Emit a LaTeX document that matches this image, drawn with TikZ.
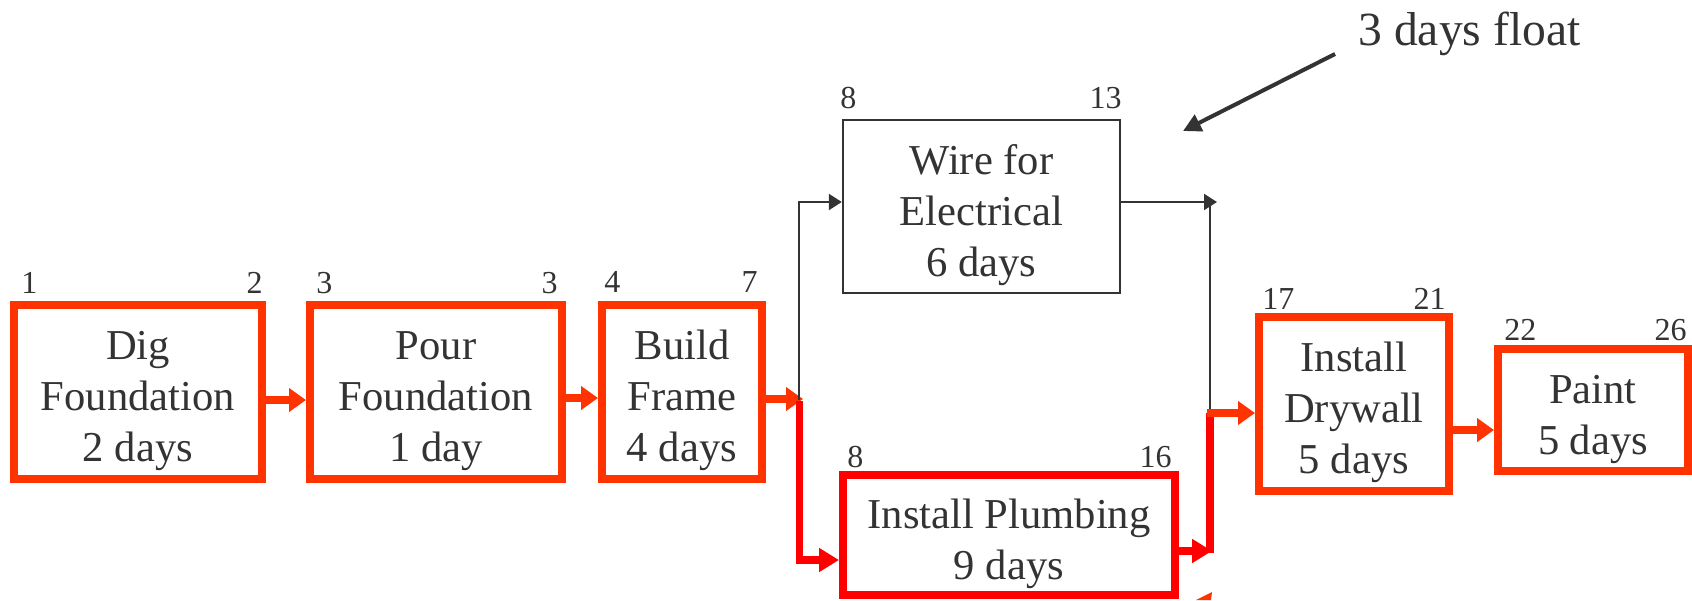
\documentclass[tikz,border=0pt]{standalone}
\usepackage{fontspec}
\setmainfont{Liberation Serif}
\usetikzlibrary{arrows.meta}
\definecolor{crit}{HTML}{FF3300}
\definecolor{critred}{HTML}{FF0000}
\definecolor{ink}{HTML}{333333}
\begin{document}
\begin{tikzpicture}[x=0.5pt,y=-0.5pt,
  boxtext/.style={font=\fontsize{21.3}{25.5}\selectfont, text=ink, align=center,
                  inner sep=0pt, text depth=4.5pt, rectangle},
  three/.style={text height=74pt},
  two/.style={text height=48.5pt},
  critbox/.style={boxtext, draw=crit, line width=4pt},
  redbox/.style={boxtext, draw=critred, line width=4pt},
  floatbox/.style={boxtext, draw=ink, line width=1.2pt},
  num/.style={font=\fontsize{16}{18}\selectfont, text=ink, inner sep=0pt},
  critarrow/.style={draw=crit, line width=3.75pt, -{Triangle[length=8.5pt,width=11.5pt]}},
  redarrow/.style={draw=critred, line width=3.6pt, -{Triangle[length=10pt,width=11.5pt]}},
  redline/.style={draw=critred, line width=3.6pt},
  thinarrow/.style={draw=ink, line width=1.1pt, -{Triangle[length=6.5pt,width=8pt]}},
  thinline/.style={draw=ink, line width=1.1pt},
  floatarrow/.style={draw=ink, line width=2pt, -{Triangle[length=9pt,width=9pt]}},
  floattext/.style={font=\fontsize{23.8}{28}\selectfont, text=ink, inner sep=0pt}
]
\useasboundingbox (0,0) rectangle (1692,600);

% boxes
\node[critbox, three, minimum width=124pt, minimum height=87pt] (dig) at (138,392)
  {Dig\\Foundation\\2 days};
\node[critbox, three, minimum width=126pt, minimum height=87pt] (pour) at (436,392)
  {Pour\\Foundation\\1 day};
\node[critbox, three, minimum width=80pt, minimum height=87pt] (build) at (682,392)
  {Build\\Frame\\4 days};
\node[floatbox, three, minimum width=138.5pt, minimum height=86.5pt] (wire) at (981.5,206.5)
  {Wire for\\Electrical\\6 days};
\node[redbox, two, minimum width=166pt, minimum height=60pt] (plumb) at (1009,535)
  {Install Plumbing\\9 days};
\node[critbox, three, minimum width=95pt, minimum height=87pt] (dry) at (1354,404)
  {Install\\Drywall\\5 days};
\node[critbox, two, minimum width=95pt, minimum height=61pt] (paint) at (1593,410)
  {Paint\\5 days};

% early start / finish numbers
\node[num, anchor=base west] (digs) at (21,293) {1};
\node[num, anchor=base east] (dige) at (263,293) {2};
\node[num, anchor=base west] (pours) at (316,293) {3};
\node[num, anchor=base east] (poure) at (558,293) {3};
\node[num, anchor=base west] (builds) at (604,292) {4};
\node[num, anchor=base east] (builde) at (758,292) {7};
\node[num, anchor=base west] (wires) at (840,108) {8};
\node[num, anchor=base east] (wiree) at (1122,108) {13};
\node[num, anchor=base west] (plumbs) at (847,467) {8};
\node[num, anchor=base east] (plumbe) at (1172,467) {16};
\node[num, anchor=base west] (drys) at (1262,309) {17};
\node[num, anchor=base east] (drye) at (1446,309) {21};
\node[num, anchor=base west] (paints) at (1504,340) {22};
\node[num, anchor=base east] (painte) at (1687,340) {26};

% junction coordinates
\coordinate (jb) at (803,399);
\coordinate (jup) at (799,400);
\coordinate (jdown) at (799.5,401);
\coordinate (wtip) at (1217,202);
\coordinate (wdrop) at (1210,202);
\coordinate (wbot) at (1210,413);
\coordinate (ptip) at (1212,551);
\coordinate (rbot) at (1210,553);
\coordinate (rtop) at (1210,413);
\coordinate (dstart) at (1207,413);

% critical path connectors
\draw[critarrow] ([yshift=-4pt]dig.east) -- ([yshift=-4pt]pour.west);
\draw[critarrow] ([yshift=-3pt]pour.east) -- ([yshift=-3pt]build.west);
\draw[critarrow] ([yshift=-3.5pt]build.east) -- (jb);
\draw[redarrow] (jdown) |- ([yshift=-12.5pt]plumb.west);
\draw[thinarrow] (jup) |- ([yshift=2.25pt]wire.west);

\draw[thinarrow] ([yshift=2.25pt]wire.east) -- (wtip);
\draw[thinline] (wdrop) -- (wbot);
\draw[redarrow] ([yshift=-8pt]plumb.east) -- (ptip);
\draw[redline] (rbot) -- (rtop);
\draw[critarrow] (dstart) -- ([yshift=-4.5pt]dry.west);
\draw[critarrow] ([yshift=-13pt]dry.east) -- ([yshift=-10pt]paint.west);

% float annotation
\node[floattext, anchor=base west] (floatlbl) at (1358,45) {3 days float};
\coordinate (ftail) at (1335,54);
\coordinate (ftip) at (1183,131);
\draw[floatarrow] (ftail) -- (ftip);

% clipped arrow fragment at the bottom edge
\fill[crit] (1196,600) -- (1212,592) -- (1211,600) -- cycle;
\end{tikzpicture}
\end{document}
